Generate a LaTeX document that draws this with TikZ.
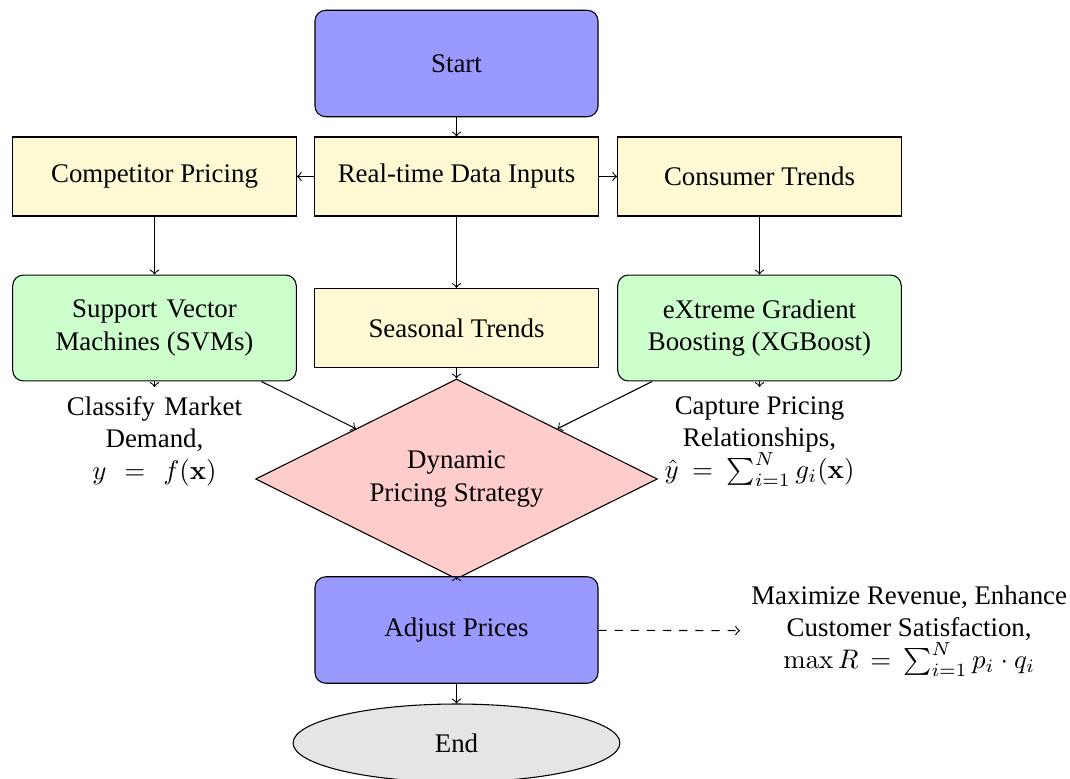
\documentclass[tikz,border=0pt]{standalone}
\usepackage[no-math]{fontspec}
\setmainfont{Liberation Serif}
\usetikzlibrary{shapes.geometric}
\definecolor{inputfill}{RGB}{255,250,212}
\begin{document}
\begin{tikzpicture}[x=0.372pt, y=-0.372pt,
  base/.style={draw, align=center, font=\fontsize{10}{12}\selectfont},
  procbox/.style={base, rounded corners=4pt, fill=blue!40,
    minimum width=105.3pt, minimum height=39.6pt},
  inputbox/.style={base, fill=inputfill, minimum width=105.5pt, minimum height=29.4pt},
  modelbox/.style={base, rounded corners=4pt, fill=green!20,
    minimum width=105.5pt, minimum height=39.4pt},
  decision/.style={base, diamond, aspect=2, fill=red!20, inner sep=0pt,
    minimum width=149.5pt, minimum height=74.4pt},
  terminal/.style={base, ellipse, fill=gray!20, minimum width=121.6pt, minimum height=29pt},
  note/.style={align=center, font=\fontsize{10}{12}\selectfont},
  >=to]
\useasboundingbox (0,0) rectangle (1070,779);

% main flow
\node[procbox]  (start) at (456.5,63.5) {Start};
\node[inputbox] (rt)    at (456.5,176.5) {Real-time Data Inputs};
\node[inputbox] (comp)  at (154.5,176.5) {Competitor Pricing};
\node[inputbox] (cons)  at (759.5,176.5) {Consumer Trends};
\node[modelbox] (svm)   at (154.5,328) {Support\hspace{1pt} Vector\\Machines (SVMs)};
\node[inputbox] (seas)  at (456.5,328) {Seasonal Trends};
\node[modelbox] (xgb)   at (759.5,328) {eXtreme Gradient\\Boosting (XGBoost)};
\node[decision] (dia)   at (456.5,479) {Dynamic\\Pricing Strategy};
\node[procbox]  (adj)   at (456.5,630) {Adjust Prices};
\node[terminal] (fin)   at (456.5,743) {End};

% annotations
\node[note, anchor=north] (lab1) at (154.5,387)
  {Classify\hspace{1pt} Market\\Demand,\\$y\mskip7mu=\mskip7mu f(\mathbf{x})$};
\node[note, anchor=north] (lab2) at (759.5,387)
  {Capture Pricing\\Relationships,\\$\hat{y}\mskip4mu=\mskip4mu\sum_{i=1}^{N} g_i(\mathbf{x})$};
\node[note, anchor=west, inner sep=4pt] (lab3) at (740,631)
  {Maximize Revenue, Enhance\\Customer Satisfaction,\\$\max R\mskip3mu=\mskip3mu\sum_{i=1}^{N} p_i\cdot q_i$};

% connectors
\draw[->] (start) -- (rt);
\draw[->] (rt) -- (comp);
\draw[->] (rt) -- (cons);
\draw[->] (comp) -- (svm);
\draw[->] (rt) -- (seas);
\draw[->] (cons) -- (xgb);
\draw[->] (svm) -- (dia);
\draw[->] (seas) -- (dia);
\draw[->] (xgb) -- (dia);
\draw[->] (svm) -- (lab1);
\draw[->] (xgb) -- (lab2);
\draw[->] (dia) -- (adj);
\draw[->] (adj) -- (fin);
\draw[->, dashed] (adj) -- (lab3);
\end{tikzpicture}
\end{document}
